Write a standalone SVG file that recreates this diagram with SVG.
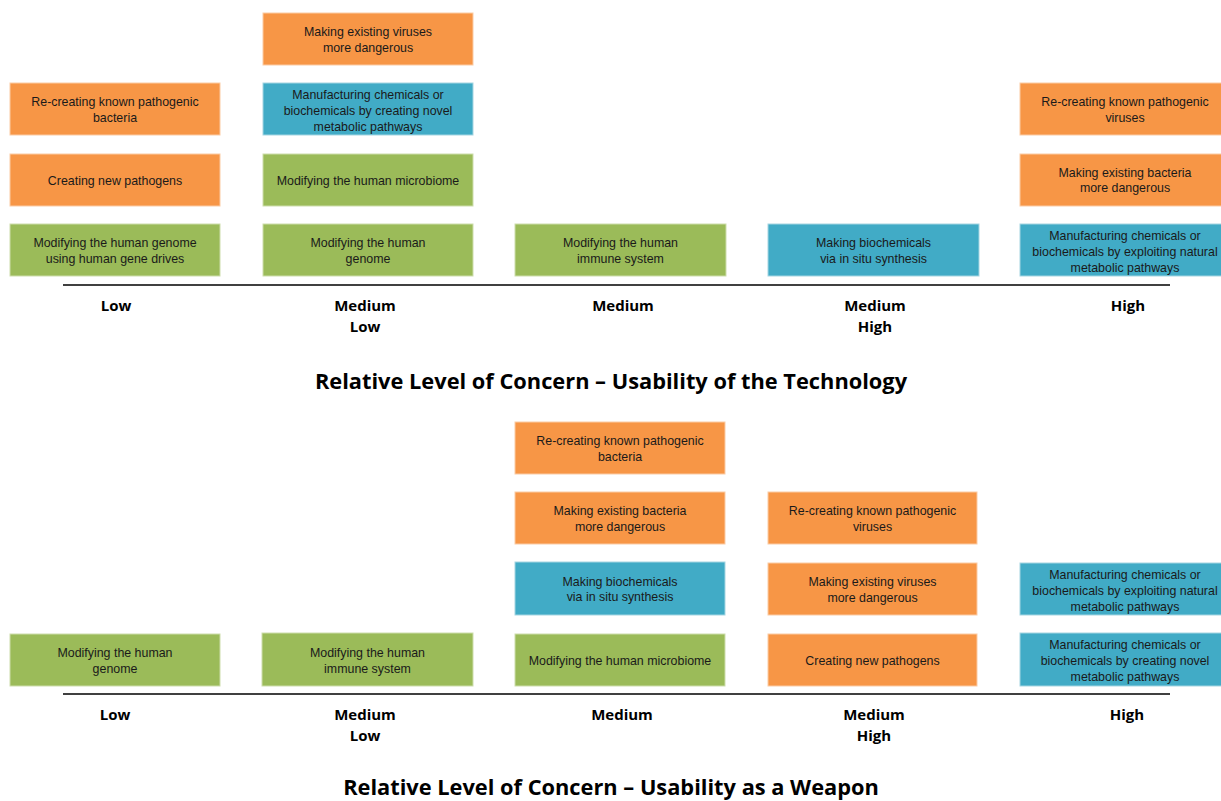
<svg xmlns="http://www.w3.org/2000/svg" width="1221" height="801" viewBox="0 0 1221 801">
<style>
.o{fill:#F79646;stroke:#FBCBA4;stroke-width:1}
.g{fill:#9BBB59;stroke:#CDDDAC;stroke-width:1}
.b{fill:#41ABC6;stroke:#A5D5E2;stroke-width:1}
.t{font-family:"Liberation Sans",Arial,sans-serif;font-size:12.4px;fill:#1a1a1a;text-anchor:middle}
.l{font-family:"Open Sans","Liberation Sans",sans-serif;font-weight:bold;font-size:15px;fill:#000;text-anchor:middle}
.h{font-family:"Open Sans","Liberation Sans",sans-serif;font-weight:bold;font-size:21.8px;fill:#000;text-anchor:middle}
.ax{stroke:#000;stroke-width:1.5}
</style>
<rect width="1221" height="801" fill="#fff"/>
<!-- Top chart -->
<g id="t-c2-r1"><rect class="o" x="263" y="13" width="210" height="52"/><text class="t" x="368" y="36">Making existing viruses</text><text class="t" x="368" y="51.5">more dangerous</text></g>
<g id="t-c1-r2"><rect class="o" x="10" y="83" width="210" height="52"/><text class="t" x="115" y="106">Re-creating known pathogenic</text><text class="t" x="115" y="121.5">bacteria</text></g>
<g id="t-c2-r2"><rect class="b" x="263" y="83" width="210" height="52"/><text class="t" x="368" y="98.5">Manufacturing chemicals or</text><text class="t" x="368" y="114.5">biochemicals by creating novel</text><text class="t" x="368" y="130.5">metabolic pathways</text></g>
<g id="t-c5-r2"><rect class="o" x="1020" y="83" width="210" height="52"/><text class="t" x="1125" y="106">Re-creating known pathogenic</text><text class="t" x="1125" y="121.5">viruses</text></g>
<g id="t-c1-r3"><rect class="o" x="10" y="154" width="210" height="52"/><text class="t" x="115" y="184.5">Creating new pathogens</text></g>
<g id="t-c2-r3"><rect class="g" x="263" y="154" width="210" height="52"/><text class="t" x="368" y="184.5">Modifying the human microbiome</text></g>
<g id="t-c5-r3"><rect class="o" x="1020" y="154" width="210" height="52"/><text class="t" x="1125" y="176.5">Making existing bacteria</text><text class="t" x="1125" y="192">more dangerous</text></g>
<g id="t-c1-r4"><rect class="g" x="10" y="224" width="210" height="52"/><text class="t" x="115" y="247">Modifying the human genome</text><text class="t" x="115" y="262.5">using human gene drives</text></g>
<g id="t-c2-r4"><rect class="g" x="263" y="224" width="210" height="52"/><text class="t" x="368" y="247">Modifying the human</text><text class="t" x="368" y="262.5">genome</text></g>
<g id="t-c3-r4"><rect class="g" x="515" y="224" width="211" height="52"/><text class="t" x="620.5" y="247">Modifying the human</text><text class="t" x="620.5" y="262.5">immune system</text></g>
<g id="t-c4-r4"><rect class="b" x="768" y="224" width="211" height="52"/><text class="t" x="873.5" y="247">Making biochemicals</text><text class="t" x="873.5" y="262.5">via in situ synthesis</text></g>
<g id="t-c5-r4"><rect class="b" x="1020" y="224" width="210" height="52"/><text class="t" x="1125" y="239.5">Manufacturing chemicals or</text><text class="t" x="1125" y="255.5">biochemicals by exploiting natural</text><text class="t" x="1125" y="271.5">metabolic pathways</text></g>
<g id="t-axis">
<line class="ax" x1="63" y1="285" x2="1170" y2="285"/>
<text class="l" x="116" y="311">Low</text>
<text class="l" x="365" y="311">Medium</text><text class="l" x="365" y="332">Low</text>
<text class="l" x="623" y="311">Medium</text>
<text class="l" x="875" y="311">Medium</text><text class="l" x="875" y="332">High</text>
<text class="l" x="1128" y="311">High</text>
<text class="h" x="611" y="389">Relative Level of Concern – Usability of the Technology</text>
</g>
<!-- Bottom chart -->
<g id="b-c3-r1"><rect class="o" x="515" y="422" width="210" height="52"/><text class="t" x="620" y="445">Re-creating known pathogenic</text><text class="t" x="620" y="460.5">bacteria</text></g>
<g id="b-c3-r2"><rect class="o" x="515" y="492" width="210" height="52"/><text class="t" x="620" y="515">Making existing bacteria</text><text class="t" x="620" y="530.5">more dangerous</text></g>
<g id="b-c4-r2"><rect class="o" x="768" y="492" width="209" height="52"/><text class="t" x="872.5" y="515">Re-creating known pathogenic</text><text class="t" x="872.5" y="530.5">viruses</text></g>
<g id="b-c3-r3"><rect class="b" x="515" y="562" width="210" height="53"/><text class="t" x="620" y="585.5">Making biochemicals</text><text class="t" x="620" y="601">via in situ synthesis</text></g>
<g id="b-c4-r3"><rect class="o" x="768" y="563" width="209" height="52"/><text class="t" x="872.5" y="586">Making existing viruses</text><text class="t" x="872.5" y="601.5">more dangerous</text></g>
<g id="b-c5-r3"><rect class="b" x="1020" y="563" width="210" height="52"/><text class="t" x="1125" y="578.5">Manufacturing chemicals or</text><text class="t" x="1125" y="594.5">biochemicals by exploiting natural</text><text class="t" x="1125" y="610.5">metabolic pathways</text></g>
<g id="b-c1-r4"><rect class="g" x="10" y="634" width="210" height="52"/><text class="t" x="115" y="657">Modifying the human</text><text class="t" x="115" y="672.5">genome</text></g>
<g id="b-c2-r4"><rect class="g" x="262" y="633" width="211" height="53"/><text class="t" x="367.5" y="657">Modifying the human</text><text class="t" x="367.5" y="672.5">immune system</text></g>
<g id="b-c3-r4"><rect class="g" x="515" y="634" width="210" height="52"/><text class="t" x="620" y="664.5">Modifying the human microbiome</text></g>
<g id="b-c4-r4"><rect class="o" x="768" y="634" width="209" height="52"/><text class="t" x="872.5" y="664.5">Creating new pathogens</text></g>
<g id="b-c5-r4"><rect class="b" x="1020" y="633" width="210" height="53"/><text class="t" x="1125" y="648.5">Manufacturing chemicals or</text><text class="t" x="1125" y="664.5">biochemicals by creating novel</text><text class="t" x="1125" y="680.5">metabolic pathways</text></g>
<g id="b-axis">
<line class="ax" x1="63" y1="694" x2="1170" y2="694"/>
<text class="l" x="115" y="720">Low</text>
<text class="l" x="365" y="720">Medium</text><text class="l" x="365" y="741">Low</text>
<text class="l" x="622" y="720">Medium</text>
<text class="l" x="874" y="720">Medium</text><text class="l" x="874" y="741">High</text>
<text class="l" x="1127" y="720">High</text>
<text class="h" x="611" y="795">Relative Level of Concern – Usability as a Weapon</text>
</g>
</svg>
